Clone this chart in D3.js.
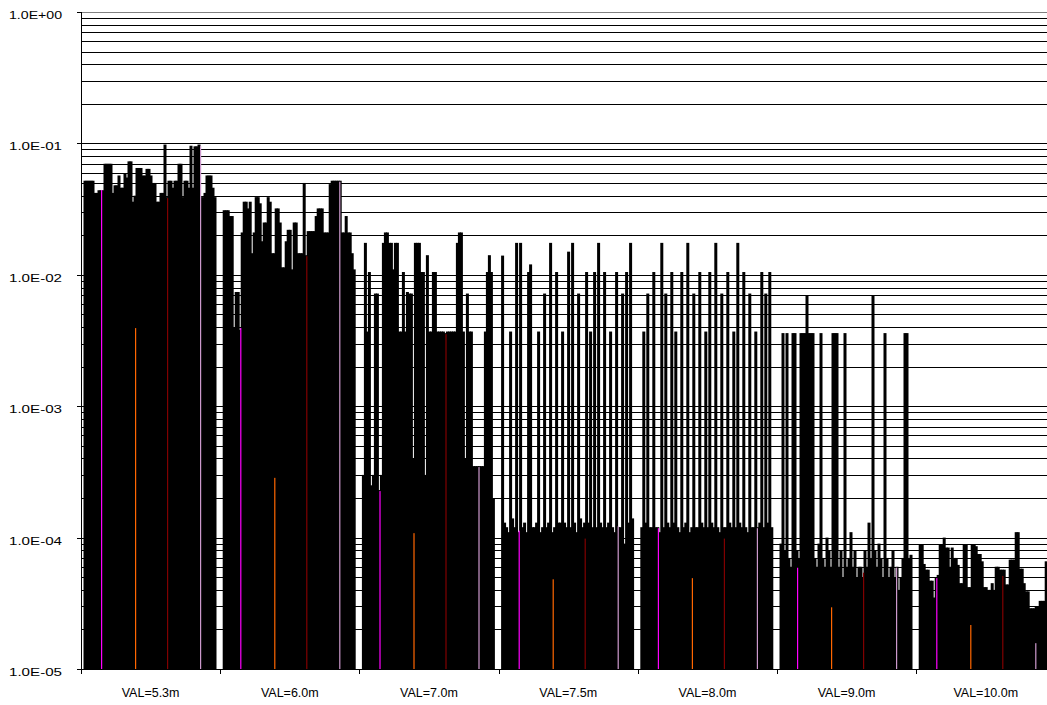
<!DOCTYPE html>
<html>
<head>
<meta charset="utf-8">
<script src="https://cdn.jsdelivr.net/npm/d3@7"></script>
<style>
  html, body { margin: 0; padding: 0; background: #fff; }
  svg { display: block; }
  text { font-family: Arial, "Liberation Sans", sans-serif; fill: #000; }
</style>
</head>
<body>
<svg id="chart" width="1047" height="705"></svg>
<script>
// Categories along the x axis
const categories = ["VAL=5.3m", "VAL=6.0m", "VAL=7.0m", "VAL=7.5m", "VAL=8.0m", "VAL=9.0m", "VAL=10.0m"];

// Log-axis ticks and their labels
const yTickValues = [1e-5, 1e-4, 1e-3, 1e-2, 1e-1, 1];
const yTickLabels = ["1.0E-05", "1.0E-04", "1.0E-03", "1.0E-02", "1.0E-01", "1.0E+00"];

// Black runs, one array per category (66 runs each)
const runs53 = [
  0.052,0.052,0.052,0.052,0.052,0.042,0.042,0.044,0.044,0.044,
  0.07,0.07,0.07,0.07,0.042,0.048,0.048,0.057,0.046,0.046,
  0.059,0.055,0.073,0.073,0.036,0.04,0.065,0.065,0.065,0.057,
  0.057,0.064,0.064,0.057,0.05,0.05,0.036,0.036,0.042,0.042,
  0.098,0.039,0.052,0.052,0.046,0.052,0.052,0.07,0.07,0.039,
  0.052,0.052,0.046,0.096,0.046,0.095,0.095,0.098,0.039,0.039,
  0.042,0.057,0.057,0.057,0.046,0.039
];
const runs60 = [
  0.031,0.031,0.031,0.028,0.028,0.004,0.0074,0.0074,0.0038,0.021,
  0.036,0.036,0.032,0.036,0.0146,0.021,0.039,0.039,0.035,0.018,
  0.025,0.025,0.039,0.036,0.0146,0.0146,0.032,0.032,0.025,0.0114,
  0.0114,0.018,0.022,0.022,0.011,0.025,0.025,0.0146,0.0146,0.0146,
  0.05,0.0141,0.0215,0.0215,0.0215,0.0215,0.028,0.032,0.032,0.032,
  0.021,0.021,0.021,0.049,0.052,0.052,0.052,0.052,0.052,0.021,
  0.021,0.028,0.021,0.021,0.0146,0.011
];
const runs70 = [
  0.0003,0.0175,0.0037,0.0105,0.00025,0.0003,0.0072,0.0072,0.00023,0.0003,
  0.0175,0.021,0.021,0.0175,0.0175,0.011,0.0175,0.0175,0.0037,0.0037,
  0.0105,0.0037,0.0074,0.0072,0.0072,0.0004,0.0175,0.0175,0.0175,0.0105,
  0.0105,0.0003,0.0141,0.0037,0.0037,0.0105,0.0105,0.0037,0.0037,0.0037,
  0.0037,0.0036,0.0037,0.0037,0.0037,0.0037,0.0037,0.0175,0.021,0.021,
  0.0037,0.0004,0.0072,0.0037,0.0037,0.00035,0.00035,0.00035,0.00035,0.00035,
  0.00035,0.0037,0.0105,0.0141,0.0105,0.0002
];
const runs75 = [
  0.014,0.00013,0.00012,0.00011,0.0037,0.00014,0.00012,0.0175,0.00011,0.0175,
  0.00012,0.00013,0.00011,0.0105,0.012,0.00012,0.00012,0.00013,0.0037,0.00011,
  0.00012,0.0072,0.00012,0.00013,0.0175,0.00011,0.00012,0.0105,0.00013,0.00013,
  0.0037,0.00013,0.00012,0.015,0.00012,0.0175,0.00013,0.00011,0.0072,0.00014,
  0.00012,0.00013,0.0105,0.00013,0.0037,0.00012,0.0105,0.00012,0.0175,0.00013,
  0.00012,0.0105,0.00012,0.00013,0.0037,0.00012,0.00011,0.0105,0.00012,0.00012,
  0.0072,0.00009,0.0105,0.00013,0.0175,0.00014
];
const runs80 = [
  0.00012,0.0037,0.00013,0.0072,0.00012,0.00012,0.0105,0.00012,0.00012,0.00011,
  0.0175,0.00012,0.0072,0.00013,0.00012,0.0105,0.00013,0.0037,0.00012,0.00011,
  0.0105,0.00012,0.00013,0.0175,0.00011,0.00012,0.0072,0.00012,0.00012,0.0105,
  0.00013,0.00012,0.0037,0.00012,0.0105,0.00013,0.00012,0.0175,0.00012,0.00011,
  0.0072,0.00012,0.00012,0.0105,0.00013,0.00012,0.0037,0.00012,0.0175,0.00013,
  0.00012,0.0105,0.00012,0.00011,0.0072,0.00012,0.00012,0.0037,0.00012,0.00013,
  0.0105,0.00012,0.0072,0.00013,0.0105,0.00012
];
const runs90 = [
  0.00009,0.0036,0.00008,0.0036,0.00007,0.00006,0.0036,0.0036,0.00008,0.00007,
  0.0036,0.0036,0.0036,0.0069,0.0036,0.0036,0.0036,0.00007,0.00006,0.00009,
  0.0036,0.00007,0.00006,0.0001,0.00008,0.00006,0.0036,0.0036,0.0036,0.00006,
  0.00008,0.00005,0.0036,0.00006,0.00007,0.00011,0.00006,0.00008,0.00005,0.00006,
  0.00006,0.00005,0.00008,0.00006,0.00013,0.00007,0.0069,0.00008,0.00006,0.00009,
  0.00007,0.00005,0.0036,0.00007,0.00005,0.00006,0.00008,0.00005,0.00006,0.00004,
  0.00005,0.00007,0.0036,0.0036,0.00007,0.000074
];
const runs100 = [
  0.000088,0.000088,0.000063,0.000057,0.000057,0.000047,0.000047,0.000035,0.00005,0.000052,
  0.000088,0.000088,0.0001,0.000084,0.000084,0.00006,0.000084,0.00007,0.00007,0.000062,
  0.000045,0.000045,0.000088,0.000088,0.000042,0.000042,0.000088,0.000088,0.000086,0.000075,
  0.000075,0.000066,0.000042,0.000042,0.00004,0.00004,0.000045,0.00004,0.00006,0.00006,
  0.000057,0.000057,0.000057,0.000044,0.000044,0.000068,0.000068,0.000068,0.00011,0.00011,
  0.000058,0.000058,0.000045,0.000039,0.000039,0.000029,0.000029,0.000029,0.00003,0.00003,
  0.000033,0.000033,0.000033,0.000066,0.00005,0.00004
];
const blackRuns = [runs53, runs60, runs70, runs75, runs80, runs90, runs100];

// Highlighted runs, one value per category
const magentaRun = [0.045, 0.004, 0.00023, 0.000115, 0.00012, 0.00006, 0.00005];
const orangeRun  = [0.004, 0.00029, 0.00011, 0.000049, 0.00005, 0.00003, 0.000022];
const darkRedRun = [0.039, 0.0141, 0.0036, 0.0001, 0.0001, 0.000055, 0.000052];
const lilacRun   = [0.097, 0.052, 0.00035, 0.000124, 0.00012, 0.00006, 0.000016];

const highlight = [
  { values: magentaRun, slot: 17, color: "#ff00ff" },
  { values: orangeRun,  slot: 51, color: "#ff6600" },
  { values: darkRedRun, slot: 83, color: "#800000" },
  { values: lilacRun,   slot: 116, color: "#cc99cc" }
];

(function draw() {
  const svg = d3.select("#chart");
  const plotLeft = 81, plotTop = 12, plotBottom = 669, groupW = 139.2;
  const plotRight = plotLeft + groupW * categories.length;
  const viewRight = 1047;

  const y = d3.scaleLog().domain([1e-5, 1]).range([plotBottom, plotTop]);
  const x0 = d3.scaleBand().domain(categories).range([plotLeft, plotRight]).padding(0);
  const slot = d3.scaleBand().domain(d3.range(133)).range([3, 136]).padding(0);

  // Horizontal gridlines at every log step
  const gridVals = [];
  for (let k = -5; k < 0; k++) for (let m = 1; m <= 9; m++) gridVals.push(m * Math.pow(10, k));
  gridVals.push(1);

  svg.append("g").selectAll("line").data(gridVals).join("line")
    .attr("x1", plotLeft).attr("x2", viewRight)
    .attr("y1", d => Math.round(y(d)) + 0.5).attr("y2", d => Math.round(y(d)) + 0.5)
    .attr("stroke", d => d === 1 ? "#808080" : "#000")
    .attr("stroke-width", 1.2);

  // Bars
  const groups = svg.append("g").selectAll("g").data(categories).join("g")
    .attr("transform", d => `translate(${x0(d)},0)`);

  groups.selectAll("rect.run").data((d, gi) => blackRuns[gi]).join("rect")
    .attr("class", "run")
    .attr("x", (d, i) => slot(2 * i) - 0.5)
    .attr("width", slot.bandwidth() * 2 + 1)
    .attr("y", d => y(d))
    .attr("height", d => plotBottom - y(d))
    .attr("fill", "#000");

  highlight.forEach(h => {
    groups.append("rect")
      .attr("x", slot(h.slot))
      .attr("width", 1.2)
      .attr("y", (d, gi) => y(h.values[gi]) + 1)
      .attr("height", (d, gi) => plotBottom - y(h.values[gi]) - 1)
      .attr("fill", h.color);
  });

  // Y axis
  const yAxis = svg.append("g");
  yAxis.append("line").attr("x1", plotLeft + 0.5).attr("x2", plotLeft + 0.5)
    .attr("y1", plotTop).attr("y2", plotBottom + 5).attr("stroke", "#000");
  yAxis.selectAll("line.tick").data(yTickValues).join("line")
    .attr("class", "tick")
    .attr("x1", plotLeft - 4).attr("x2", plotLeft)
    .attr("y1", d => Math.round(y(d)) + 0.5).attr("y2", d => Math.round(y(d)) + 0.5)
    .attr("stroke", "#000");
  yAxis.selectAll("text").data(yTickValues).join("text")
    .attr("x", 62).attr("y", d => y(d) + 7)
    .attr("text-anchor", "end")
    .attr("font-size", 11.5)
    .attr("textLength", 53).attr("lengthAdjust", "spacingAndGlyphs")
    .text((d, i) => yTickLabels[i]);

  // X axis
  const xAxis = svg.append("g");
  xAxis.append("line").attr("x1", plotLeft).attr("x2", viewRight)
    .attr("y1", plotBottom + 0.5).attr("y2", plotBottom + 0.5).attr("stroke", "#000");
  const bounds = categories.map(c => x0(c)).concat([plotRight]);
  xAxis.selectAll("line.tick").data(bounds).join("line")
    .attr("class", "tick")
    .attr("x1", d => Math.round(d) + 0.5).attr("x2", d => Math.round(d) + 0.5)
    .attr("y1", plotBottom).attr("y2", plotBottom + 5).attr("stroke", "#000");
  xAxis.selectAll("text").data(categories).join("text")
    .attr("x", d => x0(d) + x0.bandwidth() / 2)
    .attr("y", 697)
    .attr("text-anchor", "middle")
    .attr("font-size", 12.5)
    .text(d => d);
})();
</script>
</body>
</html>
